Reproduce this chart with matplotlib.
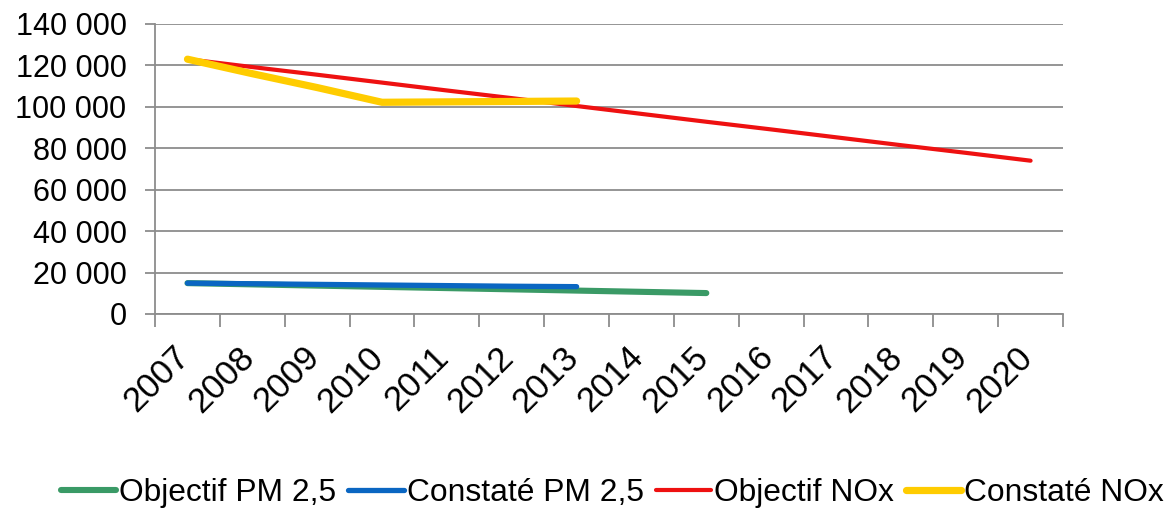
import numpy as np
import matplotlib.pyplot as plt
import matplotlib.transforms as mtransforms
from matplotlib.ticker import FuncFormatter, FixedLocator

plt.rcParams['font.family'] = ['Liberation Sans', 'DejaVu Sans']

years = [str(y) for y in range(2007, 2021)]
objectif_pm25 = [14900, 14300, 13700, 13100, 12500, 11900, 11300, 10700, 10100]
constate_pm25 = [14900, 14600, 14300, 14000, 13700, 13400, 13200]
objectif_nox = [123000, 119200, 115500, 111700, 107900, 104200, 100400,
                96600, 92800, 89100, 85300, 81500, 77800, 74000]
constate_nox = [123000, 116000, 109300, 102200, 102400, 102600, 102800]

fig = plt.figure(figsize=(11.72, 5.08), dpi=100)
ax = fig.add_axes([0.1323, 0.3819, 0.7747, 0.5709])

grey = '#8c8c8c'
ax.plot(np.arange(len(objectif_pm25)), objectif_pm25, color='#3a9a66', lw=4.4,
        solid_capstyle='round', label='Objectif PM 2,5')
ax.plot(np.arange(len(constate_pm25)), constate_pm25, color='#0a66c2', lw=3.8,
        solid_capstyle='round', label='Constaté PM 2,5')
ax.plot(np.arange(len(objectif_nox)), objectif_nox, color='#ee1111', lw=3.0,
        solid_capstyle='round', label='Objectif NOx')
ax.plot(np.arange(len(constate_nox)), constate_nox, color='#ffcc00', lw=5.2,
        solid_capstyle='round', label='Constaté NOx')

ax.set_xlim(-0.5, len(years) - 0.5)
ax.set_ylim(0, 140000)
ax.set_yticks(np.arange(0, 140001, 20000))
ax.yaxis.set_major_formatter(FuncFormatter(lambda v, p: f"{int(v):,}".replace(',', ' ')))
ax.grid(axis='y', color=grey, lw=1.3)
ax.set_axisbelow(True)

ax.xaxis.set_major_locator(FixedLocator(np.arange(-0.5, len(years), 1.0)))
ax.xaxis.set_minor_locator(FixedLocator(np.arange(len(years))))
ax.set_xticklabels([])
ax.set_xticklabels(years, minor=True, rotation=45, ha='right', va='top',
                   rotation_mode='anchor')
ax.tick_params(axis='x', which='major', length=9, width=1.3, color=grey)
ax.tick_params(axis='x', which='minor', length=0, pad=19, labelsize=25)
ax.tick_params(axis='y', length=7.5, width=1.3, color=grey, labelsize=22, pad=13)
shift = mtransforms.ScaledTranslation(-0.15, 0, fig.dpi_scale_trans)
for lab in ax.get_xticklabels(minor=True):
    lab.set_transform(lab.get_transform() + shift)

for s in ['top', 'right']:
    ax.spines[s].set_visible(False)
for s in ['left', 'bottom']:
    ax.spines[s].set_color(grey)
    ax.spines[s].set_linewidth(1.3)

leg = fig.legend(loc='center', bbox_to_anchor=(0.5226, 0.03), ncol=4, frameon=False,
                 fontsize=22.9, handlelength=1.73, handletextpad=0.1, columnspacing=0.38,
                 borderaxespad=0)

fig.savefig('out.png', dpi=100)
